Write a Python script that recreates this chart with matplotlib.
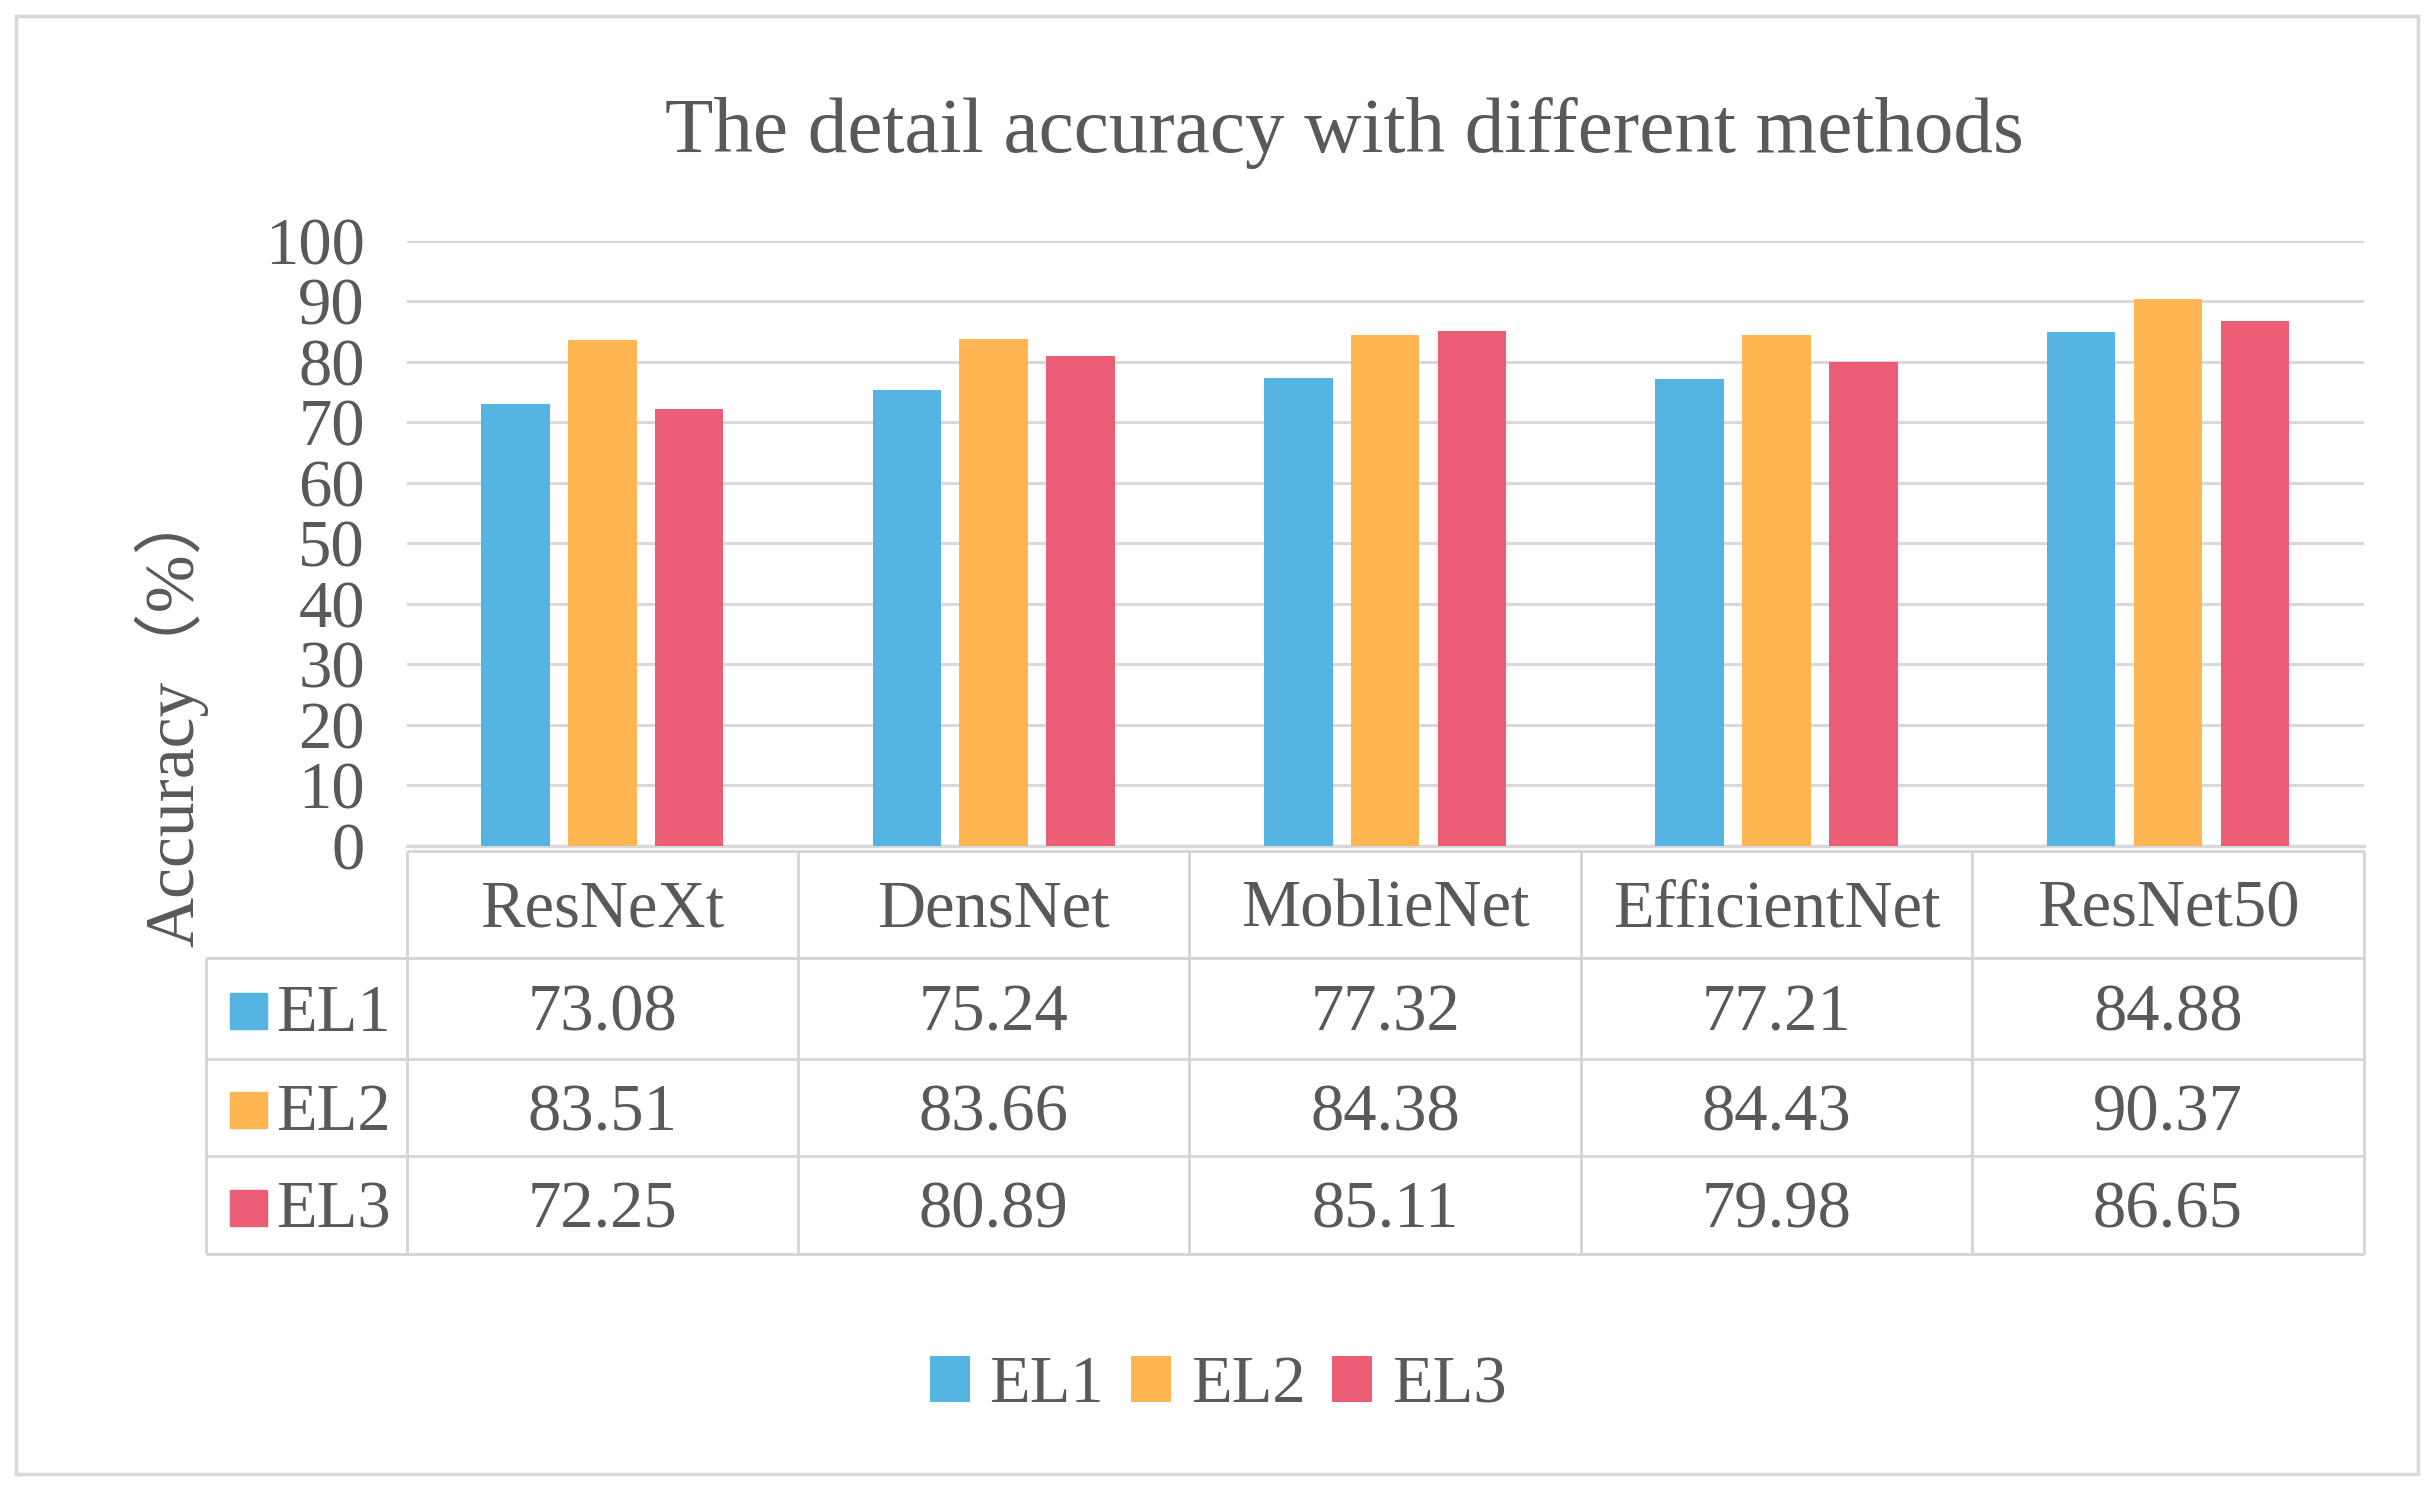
import matplotlib
matplotlib.use('Agg')
import matplotlib.pyplot as plt
from matplotlib.patches import Rectangle
import matplotlib.transforms as mtransforms
import numpy as np

# ---------------- data ----------------
methods = ['ResNeXt', 'DensNet', 'MoblieNet', 'EfficientNet', 'ResNet50']
series_names = ['EL1', 'EL2', 'EL3']
el1 = [73.08, 75.24, 77.32, 77.21, 84.88]
el2 = [83.51, 83.66, 84.38, 84.43, 90.37]
el3 = [72.25, 80.89, 85.11, 79.98, 86.65]
yticks = list(range(0, 101, 10))
colors = ['#56B4E3', '#FFB652', '#EC5E75']
title = 'The detail accuracy with different methods'
ylabel = 'Accuracy（%）'

series = [el1, el2, el3]

plt.rcParams['font.family'] = ['Liberation Serif', 'Noto Sans CJK SC', 'DejaVu Sans']
TXT = '#595959'
GRID = '#d9d9d9'
TLINE = '#d4d4d4'

# layout reference units (scaled to the figure)
W, H = 1568.3, 961.3
def fx(x):
    return x / W
def fy(y):
    return 1 - y / H

fig = plt.figure(figsize=(24.34, 14.92), dpi=100)
ax = fig.add_axes([fx(262), fy(545), fx(1523) - fx(262), fy(155) - fy(545)])

x = np.arange(len(methods))
offsets = [-0.222, 0.0, 0.222]
bw = 0.175
bars = []
for vals, off, c, name in zip(series, offsets, colors, series_names):
    b = ax.bar(x + off, vals, width=bw, color=c, label=name, zorder=3)
    bars.append(b)

ax.set_xlim(-0.5, len(methods) - 0.5)
ax.set_ylim(0, 100)
ax.set_yticks(yticks)
ax.set_yticklabels([str(t) for t in yticks], fontsize=48, color=TXT)
ax.tick_params(axis='y', length=0, pad=30)
ax.set_xticks([])
ax.yaxis.grid(True, color=GRID, lw=2.2, zorder=0)
ax.set_axisbelow(True)
for s in ['top', 'left', 'right']:
    ax.spines[s].set_visible(False)
ax.spines['bottom'].set_color(GRID)
ax.spines['bottom'].set_linewidth(2.5)

# title & y label
fig.text(fx(866), fy(86), title, fontsize=57, color=TXT, ha='center', va='center')
fig.text(fx(110), fy(461), ylabel, fontsize=50, color=TXT, ha='center', va='center',
         rotation=90)

# ---------------- data table ----------------
tr = mtransforms.blended_transform_factory(ax.transData, fig.transFigure)
unit = 252.2  # reference px per category
def dx(px):
    return -0.5 + (px - 262) / unit

y_top, y_h, y_r1, y_r2, y_bot = fy(548), fy(617), fy(682), fy(745), fy(808)
xl = dx(133)
xr = len(methods) - 0.5
lkw = dict(color=TLINE, lw=2, transform=tr, clip_on=False, solid_capstyle='butt')
ax.plot([-0.5, xr], [y_top, y_top], **lkw)
for yy in [y_h, y_r1, y_r2, y_bot]:
    ax.plot([xl, xr], [yy, yy], **lkw)
for i in range(len(methods) + 1):
    ax.plot([i - 0.5, i - 0.5], [y_top, y_bot], **lkw)
ax.plot([xl, xl], [y_h, y_bot], **lkw)

for i, m in enumerate(methods):
    ax.text(i, fy(586), m, transform=tr, ha='center', va='center', fontsize=48, color=TXT)

row_centers = [fy(653.5), fy(717.5), fy(780.5)]
sq_centers = [fy(651.5), fy(715), fy(778.5)]
for vals, yc, ys, c, name in zip(series, row_centers, sq_centers, colors, series_names):
    for i, v in enumerate(vals):
        ax.text(i, yc, f'{v:.2f}', transform=tr, ha='center', va='center',
                fontsize=48, color=TXT)
    ax.add_patch(Rectangle((dx(148), ys - 11.5 / H), dx(172) - dx(148), 23 / H,
                           transform=tr, color=c, clip_on=False))
    ax.text(dx(178), yc, name, transform=tr, ha='left', va='center', fontsize=48, color=TXT)

# ---------------- legend ----------------
fig.legend(bars, series_names, loc='center', bbox_to_anchor=(fx(785), fy(893)), ncol=3,
           frameon=False, fontsize=48, handlelength=0.6, handleheight=0.7,
           handletextpad=0.3, columnspacing=0.4, labelcolor=TXT)

# outer border
fig.add_artist(Rectangle((fx(10), fy(950)), fx(1558) - fx(10), fy(10) - fy(950),
                         transform=fig.transFigure, fill=False, ec=GRID, lw=2.5))

fig.savefig('out.png', dpi=100)
